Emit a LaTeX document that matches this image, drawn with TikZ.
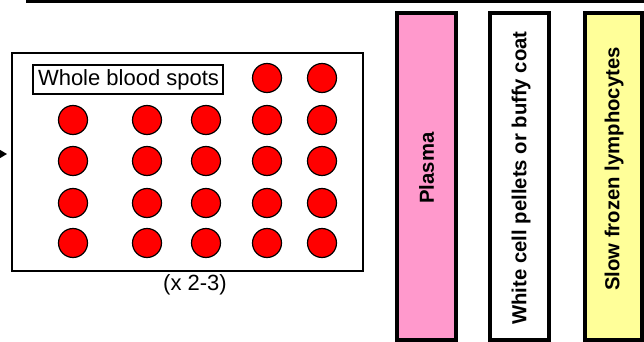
\documentclass[tikz,border=0pt]{standalone}
\usepackage{fontspec}
\setmainfont{Liberation Sans}
\usetikzlibrary{arrows.meta}
\definecolor{plasmapink}{HTML}{FF99CC}
\definecolor{lymphyellow}{HTML}{FFFF99}
\definecolor{spotred}{HTML}{FF0000}
\begin{document}
\begin{tikzpicture}[x=1pt,y=-1pt,
  spot/.style={circle,draw=black,line width=1.2pt,fill=spotred,minimum size=29pt,inner sep=0pt},
  barbox/.style={draw=black,line width=4pt},
  bartext/.style={rotate=90,font=\fontsize{20.3}{24}\selectfont\bfseries,inner sep=0pt},
  plain/.style={font=\fontsize{22}{26}\selectfont,inner sep=0pt}]
\useasboundingbox (0,0) rectangle (644,342);
% top rule
\draw[line width=2.8pt] (26,1.3) -- (650,1.3);
% big box
\node[draw=black,line width=2pt,minimum width=351pt,minimum height=218pt,inner sep=0pt] (plate) at (187.5,162) {};
\coordinate (arrstart) at (-30,154);
\coordinate (arrend) at (7,154);
\draw[line width=1.5pt,-{Triangle[length=8pt,width=9pt]}] (arrstart) -- (arrend);
\node[draw=black,line width=2pt,minimum width=190pt,minimum height=29pt,inner sep=0pt] (lbl) at (128,79.5) {};
\node[plain] (lbltext) at (128.5,80) {Whole blood spots};
% spots
\foreach \c/\x in {1/73,2/147,3/206,4/267,5/322}{
  \foreach \r/\y in {2/120,3/161,4/203,5/243}{
    \node[spot] (s\r\c) at (\x,\y) {};
  }
}
\node[spot] (s14) at (267,78) {};
\node[spot] (s15) at (322,78) {};
\node[plain] (mult) at (195,285) {(x 2-3)};
% bars
\node[barbox,fill=plasmapink,minimum width=58.5pt,minimum height=327pt,inner sep=0pt] (plasma) at (426.5,176.5) {};
\node[bartext] (plasmatext) at (426.5,168) {Plasma};
\node[barbox,fill=white,minimum width=59pt,minimum height=327pt,inner sep=0pt] (white) at (519.5,176.5) {};
\node[bartext] (whitetext) at (521,178) {White cell pellets or buffy coat};
\node[barbox,fill=lymphyellow,minimum width=57pt,minimum height=327pt,inner sep=0pt] (yellow) at (613.5,176.5) {};
\node[bartext] (yellowtext) at (614,169) {Slow frozen lymphocytes};
\end{tikzpicture}
\end{document}
